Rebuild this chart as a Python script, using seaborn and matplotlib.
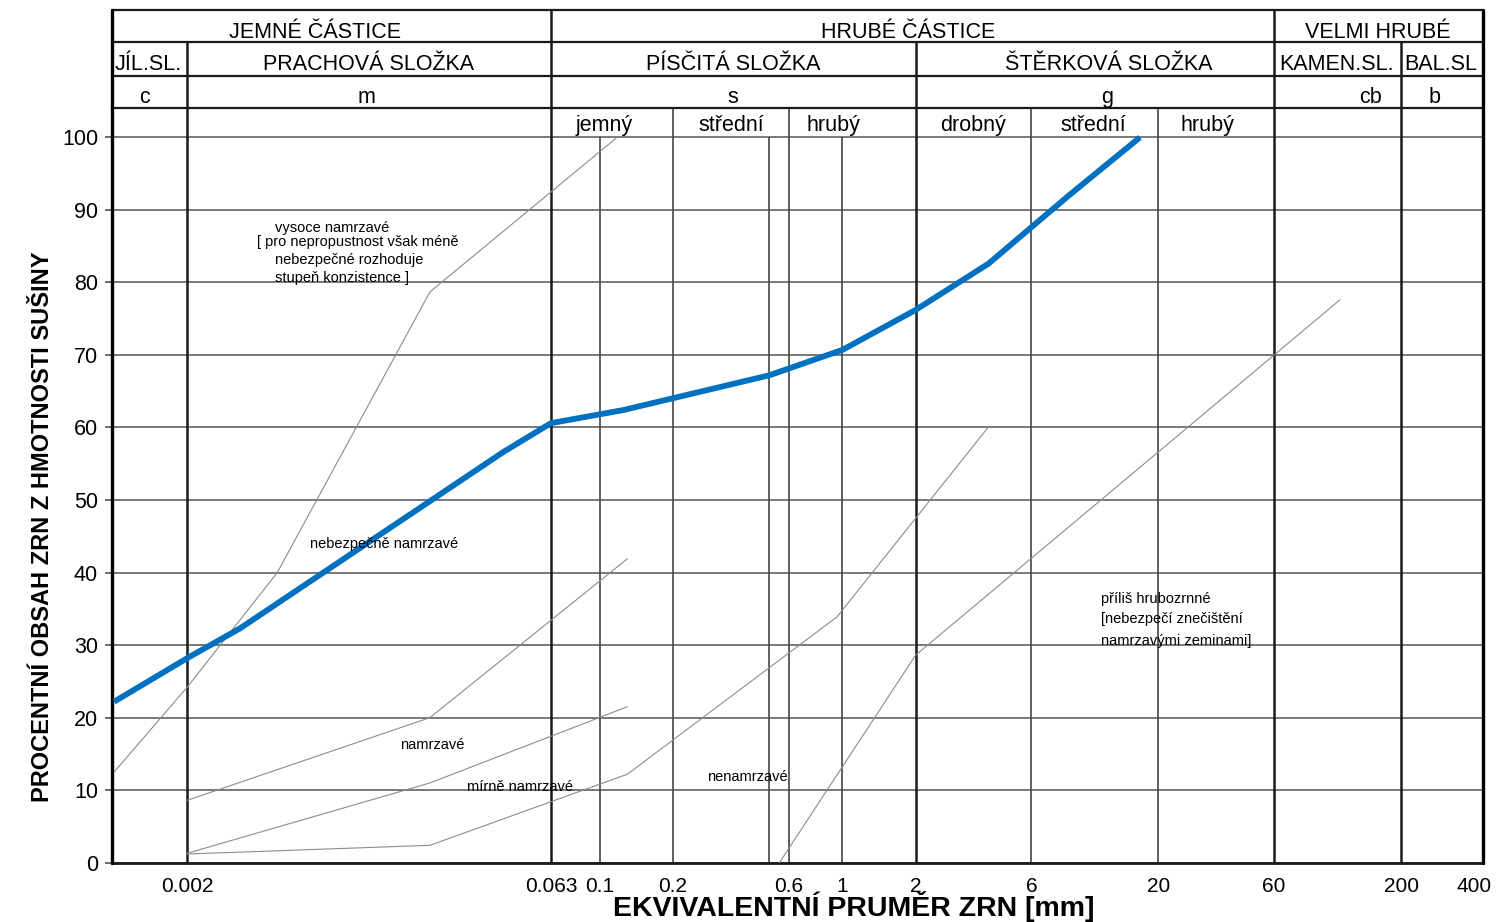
import pandas as pd
import seaborn as sns
import matplotlib.pyplot as plt
from matplotlib import font_manager

# zrnitostni krivka: prumer zrn [mm] / propad [%]
d_krivka = [0.001, 0.002, 0.0033, 0.04, 0.063, 0.125, 0.5, 1.0, 2.0, 4.0, 8.5, 16.8]
p_krivka = [22.2, 28.2, 32.3, 56.6, 60.6, 62.4, 67.2, 70.7, 76.2, 82.6, 91.9, 100.0]

# hranice oblasti namrzavosti
d_hr1 = [0.001, 0.002, 0.0047, 0.02, 0.118]
p_hr1 = [12.5, 24.2, 40.0, 78.7, 100.0]
d_hr2 = [0.002, 0.02, 0.13]
p_hr2 = [8.6, 20.0, 41.9]
d_hr3 = [0.002, 0.02, 0.13]
p_hr3 = [1.3, 11.0, 21.5]
d_hr4 = [0.002, 0.02, 0.13, 0.95, 4.0]
p_hr4 = [1.2, 2.4, 12.2, 33.9, 60.1]
d_hr5 = [0.55, 2.0, 112.0]
p_hr5 = [0.0, 28.6, 77.6]

x_ticks = [0.002, 0.063, 0.1, 0.2, 0.6, 1, 2, 6, 20, 60, 200, 400]
x_labels = ['0.002', '0.063', '0.1', '0.2', '0.6', '1', '2', '6', '20', '60', '200', '400']
y_ticks = [0, 10, 20, 30, 40, 50, 60, 70, 80, 90, 100]

XMIN, XMAX = 0.00098, 435.0
YTOP = 104.0

# hlavicka tabulky
radek1 = ['JEMNÉ ČÁSTICE', 'HRUBÉ ČÁSTICE', 'VELMI HRUBÉ']
radek1_x = [0.0067, 1.86, 161]
radek2 = ['JÍL.SL.', 'PRACHOVÁ SLOŽKA', 'PÍSČITÁ SLOŽKA', 'ŠTĚRKOVÁ SLOŽKA', 'KAMEN.SL.', 'BAL.SL']
radek2_x = [0.00138, 0.0112, 0.354, 12.5, 108, 290]
radek3 = ['c', 'm', 's', 'g', 'cb', 'b']
radek3_x = [0.00134, 0.011, 0.354, 12.3, 150, 275]
radek4 = ['jemný', 'střední', 'hrubý', 'drobný', 'střední', 'hrubý']
radek4_x = [0.104, 0.347, 0.92, 3.45, 10.8, 32.0]

# popisky oblasti (text, x, y)
popisky = [
    ('vysoce namrzavé', 0.0046, 87.5),
    ('[ pro nepropustnost však méně', 0.00387, 85.6),
    ('nebezpečné rozhoduje', 0.0046, 83.1),
    ('stupeň konzistence ]', 0.0046, 80.6),
    ('nebezpečně namrzavé', 0.0064, 43.9),
    ('namrzavé', 0.0150, 16.2),
    ('mírně namrzavé', 0.0284, 10.4),
    ('nenamrzavé', 0.2765, 11.8),
    ('příliš hrubozrnné', 11.6, 36.4),
    ('[nebezpečí znečištění', 11.6, 33.6),
    ('namrzavými zeminami]', 11.6, 30.6),
]

sns.set_style('white')
plt.rcParams['font.family'] = ['Liberation Sans', 'DejaVu Sans']
plt.rcParams['text.color'] = 'black'
plt.rcParams['axes.labelcolor'] = 'black'
plt.rcParams['xtick.color'] = 'black'
plt.rcParams['ytick.color'] = 'black'

fig = plt.figure(figsize=(15.05, 9.22), dpi=100)
ax = fig.add_axes([0.0744, 0.0643, 0.911, 0.8182])
ax.set_xscale('log')
ax.set_xlim(XMIN, XMAX)
ax.set_ylim(0, YTOP)

# vodorovna mrizka
for y in y_ticks:
    ax.axhline(y, color='#555555', lw=1.1, zorder=1)

# svisle cary
ax.vlines([0.1, 0.5, 1.0], 0, 100, color='#444444', lw=1.2, zorder=1)
ax.vlines([0.2, 0.6, 6, 20], 0, YTOP, color='#444444', lw=1.2, zorder=1)
for x, top in [(0.002, 113.1), (0.063, 117.55), (2, 113.1), (60, 117.55), (200, 113.1)]:
    ax.plot([x, x], [0, top], color='#1a1a1a', lw=1.8, clip_on=False, zorder=2)
for x in [XMIN, XMAX]:
    ax.plot([x, x], [0, 117.55], color='black', lw=2.4, clip_on=False, zorder=3)
for y in [108.45, 113.1, 117.55]:
    ax.plot([XMIN, XMAX], [y, y], color='#1a1a1a', lw=1.6, clip_on=False, zorder=2)

# hranice namrzavosti
hranice = pd.concat([
    pd.DataFrame({'d': d, 'p': p, 'hranice': i})
    for i, (d, p) in enumerate([(d_hr1, p_hr1), (d_hr2, p_hr2), (d_hr3, p_hr3),
                                (d_hr4, p_hr4), (d_hr5, p_hr5)])
])
sns.lineplot(data=hranice, x='d', y='p', units='hranice', estimator=None,
             sort=False, color='#8c8c8c', lw=0.8, ax=ax, zorder=3)

# zrnitostni krivka
sns.lineplot(x=d_krivka, y=p_krivka, sort=False, color='#0070C0', lw=4.2,
             ax=ax, zorder=5, solid_joinstyle='round', solid_capstyle='butt')

# texty hlavicky
for texty, xs, y in [(radek1, radek1_x, 114.5), (radek2, radek2_x, 110.1),
                     (radek3, radek3_x, 105.5), (radek4, radek4_x, 101.7)]:
    for t, x in zip(texty, xs):
        ax.text(x, y, t, ha='center', va='center', fontsize=15.5, clip_on=False)

for t, x, y in popisky:
    ax.text(x, y, t, ha='left', va='center', fontsize=10.5, zorder=6)

ax.set_xticks(x_ticks)
ax.set_xticklabels(x_labels)
ax.minorticks_off()
ax.set_yticks(y_ticks)
ax.tick_params(axis='x', length=0, pad=10, labelsize=15)
ax.tick_params(axis='y', left=True, length=5, width=1.1, color='#444444', pad=5, labelsize=15.5)

for s in ['left', 'right']:
    ax.spines[s].set_visible(False)
ax.spines['bottom'].set_linewidth(2.0)
ax.spines['bottom'].set_color('#1a1a1a')
ax.spines['top'].set_linewidth(1.6)
ax.spines['top'].set_color('#1a1a1a')

narrow = any(f.name == 'Liberation Sans Narrow' for f in font_manager.fontManager.ttflist)
if narrow:
    ylab_font, ylab_size = ['Liberation Sans Narrow', 'DejaVu Sans'], 21
else:
    ylab_font, ylab_size = ['Liberation Sans', 'DejaVu Sans'], 17

ax.set_xlabel('EKVIVALENTNÍ PRUMĚR ZRN [mm]', fontsize=20.5, fontweight='bold', va='center')
ax.xaxis.set_label_coords(0.541, -0.058)
ax.set_ylabel('PROCENTNÍ OBSAH ZRN Z HMOTNOSTI SUŠINY', fontsize=ylab_size,
              fontweight='bold', family=ylab_font, va='center')
ax.yaxis.set_label_coords(-0.0507, 0.446)

fig.savefig('out.png', dpi=100)
